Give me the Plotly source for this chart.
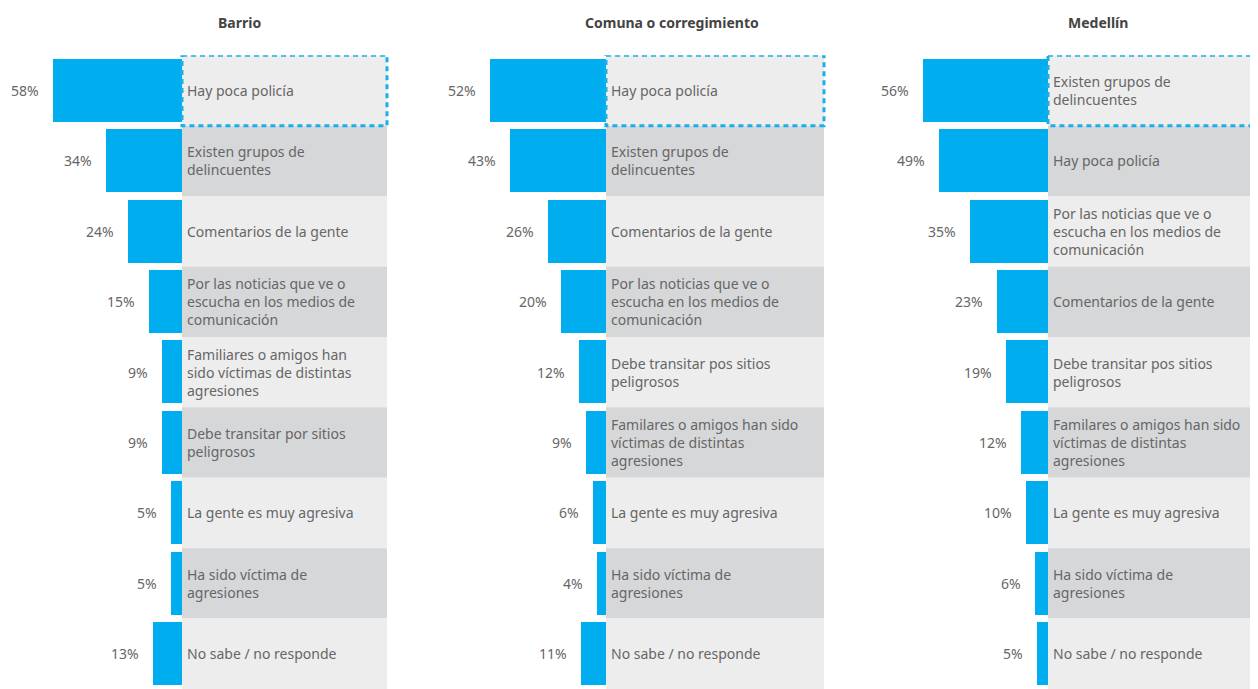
import plotly.graph_objects as go
from plotly.subplots import make_subplots


# ───────────────────────── DATA ─────────────────────────

titles = ["Barrio", "Comuna o corregimiento", "Medellín"]

barrio_labels = [
    "Hay poca policía",
    "Existen grupos de<br>delincuentes",
    "Comentarios de la gente",
    "Por las noticias que ve o<br>escucha en los medios de<br>comunicación",
    "Familiares o amigos han<br>sido víctimas de distintas<br>agresiones",
    "Debe transitar por sitios<br>peligrosos",
    "La gente es muy agresiva",
    "Ha sido víctima de<br>agresiones",
    "No sabe / no responde",
]
barrio_values = [58, 34, 24, 15, 9, 9, 5, 5, 13]

comuna_labels = [
    "Hay poca policía",
    "Existen grupos de<br>delincuentes",
    "Comentarios de la gente",
    "Por las noticias que ve o<br>escucha en los medios de<br>comunicación",
    "Debe transitar pos sitios<br>peligrosos",
    "Familares o amigos han sido<br>víctimas de distintas<br>agresiones",
    "La gente es muy agresiva",
    "Ha sido víctima de<br>agresiones",
    "No sabe / no responde",
]
comuna_values = [52, 43, 26, 20, 12, 9, 6, 4, 11]

medellin_labels = [
    "Existen grupos de<br>delincuentes",
    "Hay poca policía",
    "Por las noticias que ve o<br>escucha en los medios de<br>comunicación",
    "Comentarios de la gente",
    "Debe transitar pos sitios<br>peligrosos",
    "Familares o amigos han sido<br>víctimas de distintas<br>agresiones",
    "La gente es muy agresiva",
    "Ha sido víctima de<br>agresiones",
    "No sabe / no responde",
]
medellin_values = [56, 49, 35, 23, 19, 12, 10, 6, 5]


# ───────────────────────── LAYOUT HELPERS ─────────────────────────

PAGE_W, PAGE_H = 1258, 689
OFF = 8               # default body margin of the html page
W, H = PAGE_W - OFF, PAGE_H - OFF
SCALE = 2.23          # px per percentage point
BLUE = "#00ADEE"
LIGHT = "#EDEDED"
GREY = "#D6D7D9"
TEXT = "#666666"
FONT = "Noto Sans"

# panel geometry in page px: (domain left, zero line, box right, domain right, title x)
panels = [
    (8, 182, 387, 392, 239),
    (430, 606, 824, 829, 672),
    (870, 1048, 1300, 1258, 1098),
]

y_top = 55.3


def px_x(p):
    return (p - OFF) / W


def px_y(p):
    return 1 - (p - OFF) / H


# ───────────────────────── FIGURE ─────────────────────────

fig = make_subplots(rows=1, cols=3)

datasets = [
    (barrio_labels, barrio_values),
    (comuna_labels, comuna_values),
    (medellin_labels, medellin_values),
]

shapes = []
annotations = []

for k, ((labels, values), (d0, zero, box_r, d1, tx)) in enumerate(zip(datasets, panels)):
    col = k + 1
    rows = list(range(len(values)))
    xa = "x" if k == 0 else f"x{col}"
    ya = "y" if k == 0 else f"y{col}"

    fig.add_trace(go.Bar(
        x=values,
        y=rows,
        orientation="h",
        width=0.895,
        marker=dict(color=BLUE, line=dict(width=0)),
        hoverinfo="skip",
        showlegend=False,
    ), row=1, col=col)

    left = (zero - d0) / SCALE
    right = (d1 - zero) / SCALE
    box = (box_r - zero) / SCALE

    fig.update_xaxes(
        range=[left, -right], domain=[px_x(d0), px_x(d1)],
        visible=False, fixedrange=True, row=1, col=col
    )
    fig.update_yaxes(
        range=[len(values) - 0.5, -0.5], domain=[0, px_y(y_top)],
        visible=False, fixedrange=True, row=1, col=col
    )

    # label boxes
    for i in rows:
        shapes.append(dict(
            type="rect", xref=xa, yref=ya, layer="below",
            x0=0, x1=-box, y0=i - 0.5, y1=i + 0.5,
            fillcolor=LIGHT if i % 2 == 0 else GREY,
            line=dict(width=0)
        ))

    # dashed highlight on the top answer
    shapes.append(dict(
        type="rect", xref=xa, yref=ya, layer="above",
        x0=0, x1=-box, y0=-0.5, y1=0.5,
        fillcolor="rgba(0,0,0,0)",
        line=dict(color="#1AAEEB", width=3, dash="5px,4px")
    ))

    for i, (lab, v) in enumerate(zip(labels, values)):
        annotations.append(dict(
            xref=xa, yref=ya, x=v, y=i, text=f"{v}%",
            showarrow=False, xanchor="right", xshift=-12,
            font=dict(family=FONT, size=14, color=TEXT)
        ))
        annotations.append(dict(
            xref=xa, yref=ya, x=0, y=i, text=lab,
            showarrow=False, xanchor="left", align="left", xshift=3,
            font=dict(family=FONT, size=14, color=TEXT)
        ))

    annotations.append(dict(
        xref="paper", yref="paper", x=px_x(tx), y=px_y(22),
        text=f"<b>{titles[k]}</b>", showarrow=False,
        xanchor="center", yanchor="middle",
        font=dict(family=FONT, size=14, color="#444444")
    ))

fig.update_layout(
    width=W,
    height=H,
    margin=dict(l=0, r=0, t=0, b=0),
    paper_bgcolor="white",
    plot_bgcolor="rgba(0,0,0,0)",
    bargap=0,
    shapes=shapes,
    annotations=annotations,
    showlegend=False,
)

fig.write_html("out.html", config={"displayModeBar": False})
